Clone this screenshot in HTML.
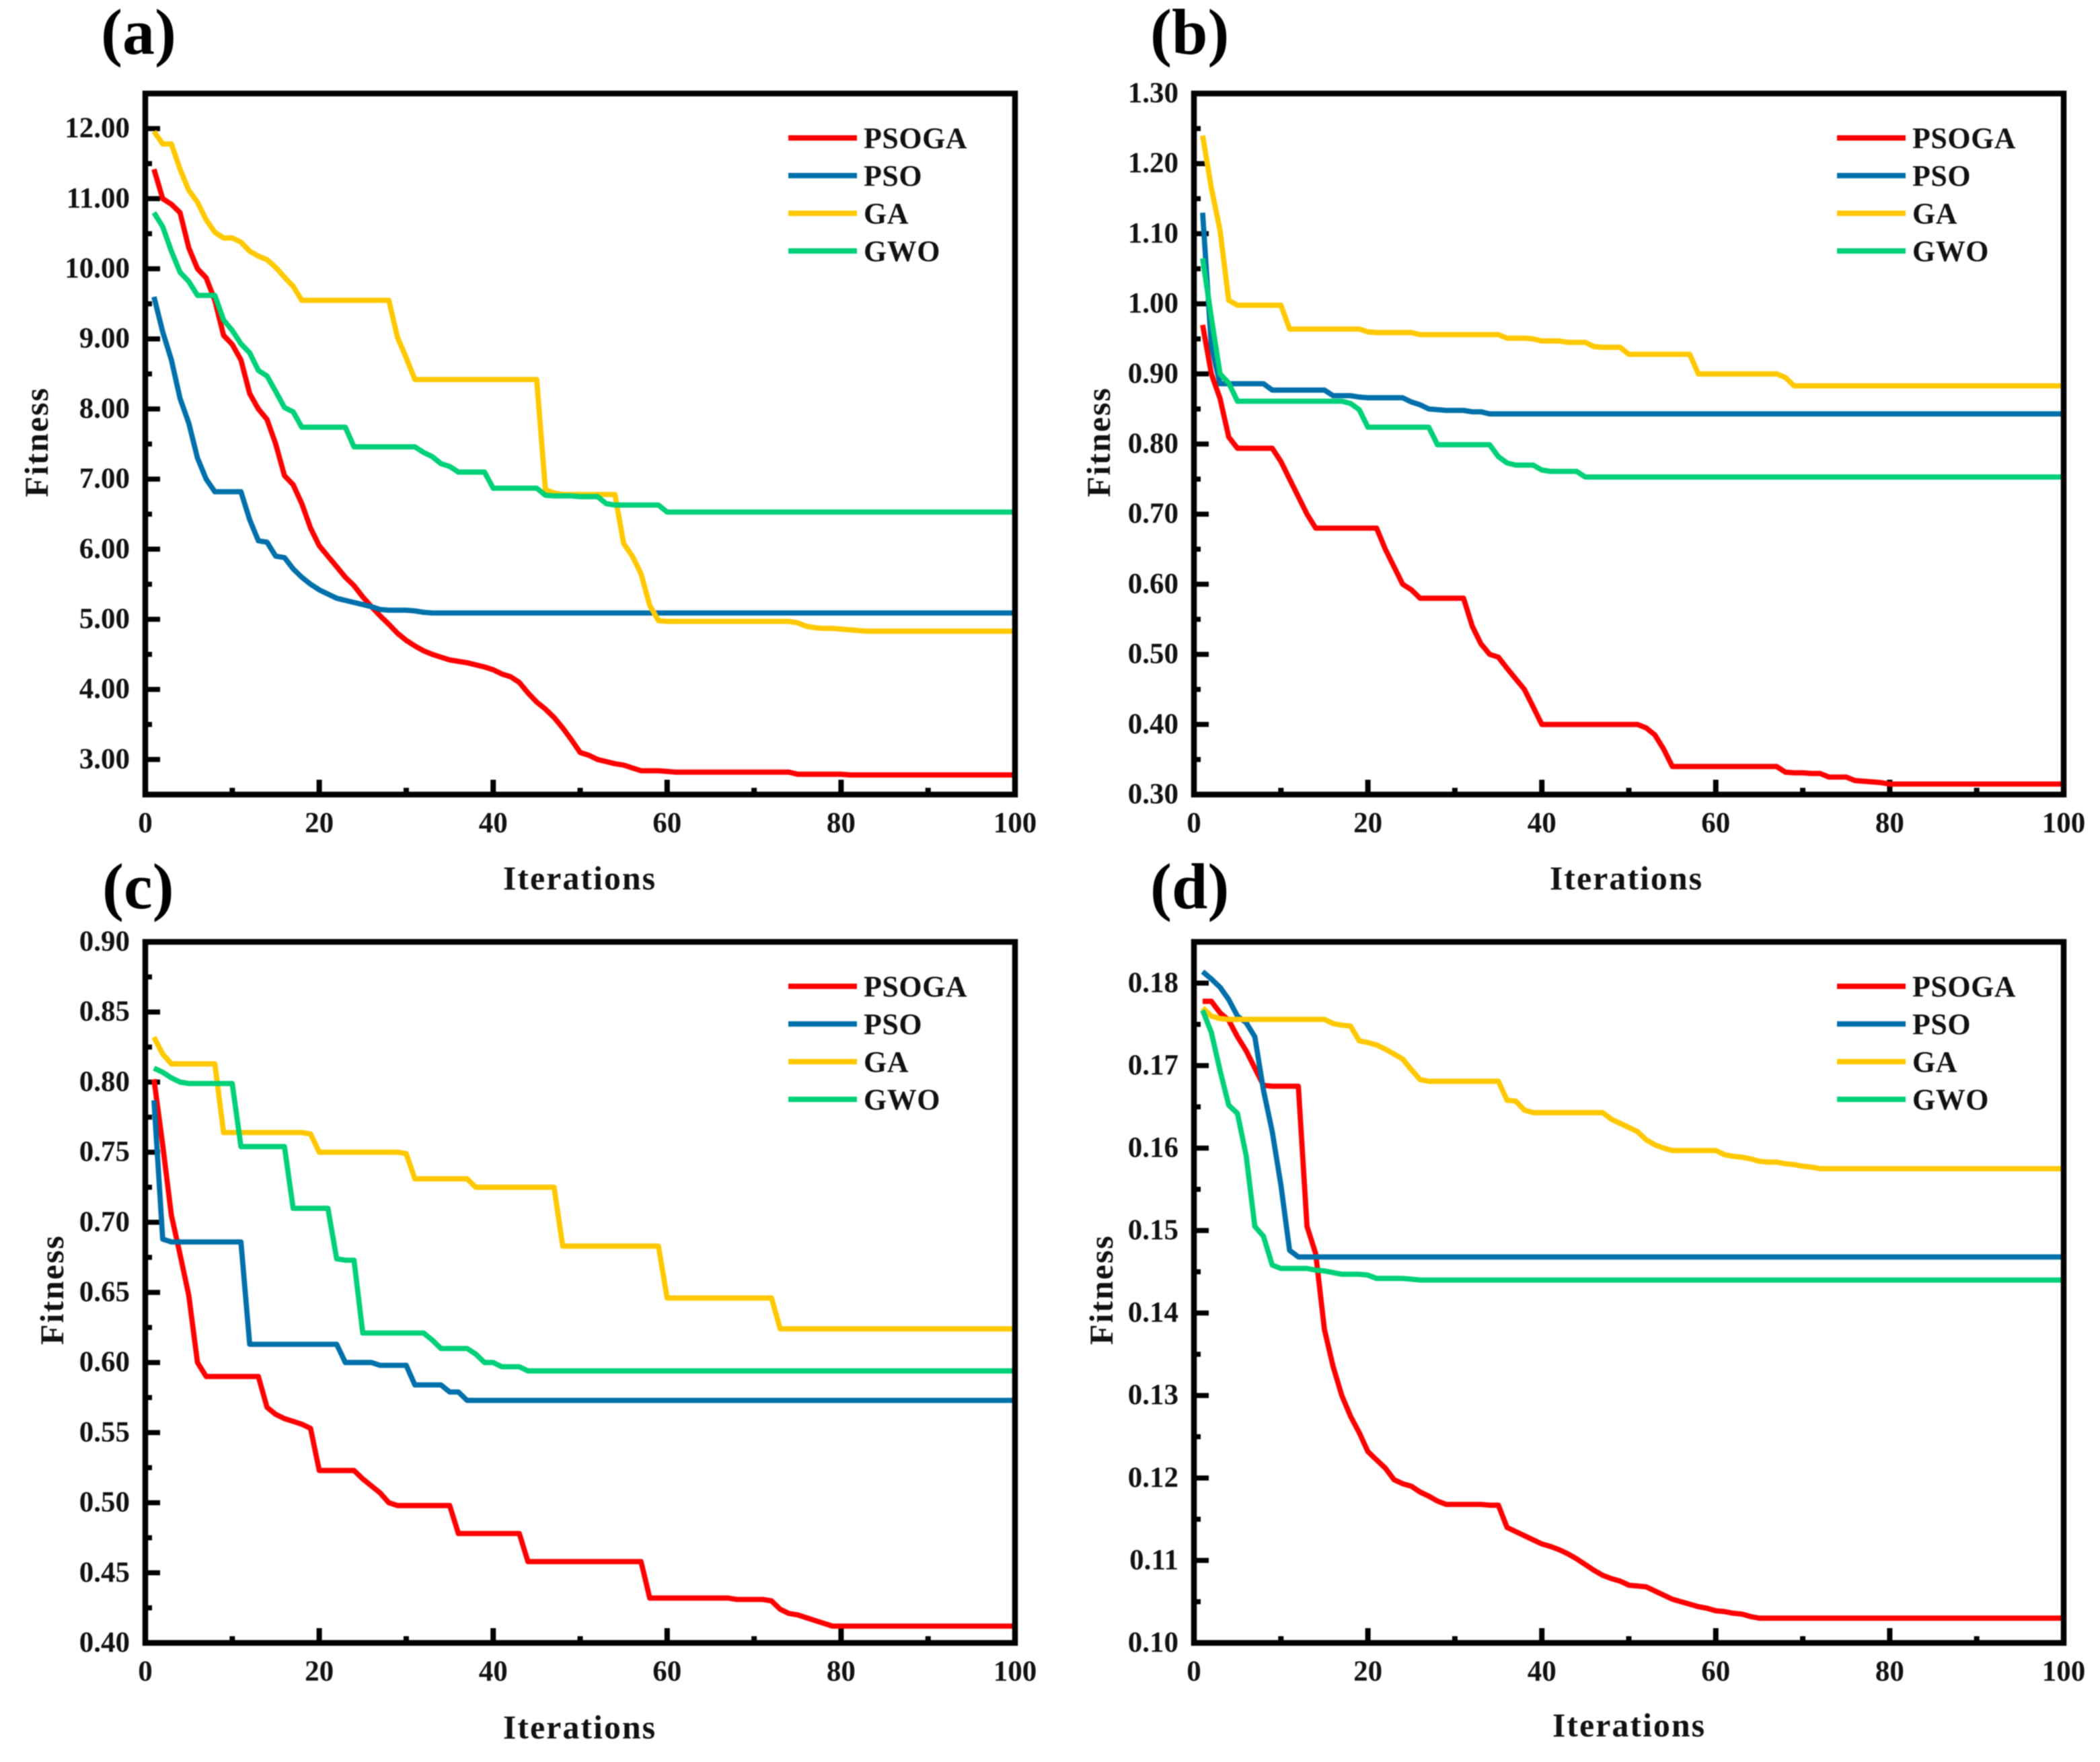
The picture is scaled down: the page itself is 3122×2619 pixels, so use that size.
<!DOCTYPE html>
<html lang="en">
<head>
<meta charset="utf-8">
<title>Fitness convergence curves</title>
<style>
html,body{margin:0;padding:0;background:#fff;width:3122px;height:2619px;overflow:hidden}
svg{display:block;filter:blur(0.7px)}
text{font-family:"Liberation Serif",serif;font-weight:bold;fill:#111}
.tick{font-size:43px}
.title{font-size:50px;letter-spacing:2px}
.panel{font-size:96px;fill:#000}
.legend{font-size:44px;letter-spacing:.5px}
.frame{fill:none;stroke:#000;stroke-width:8.5}
.key{stroke-width:8}
</style>
</head>
<body>
<svg id="figure" xmlns="http://www.w3.org/2000/svg" width="3122" height="2619" viewBox="0 0 3122 2619">
  <rect width="3122" height="2619" fill="#fff"/>

  <g id="panel-a">
    <g class="ticks"></g>
    <g class="series"></g>
    <rect class="frame" x="216" y="139" width="1293" height="1042"/>
    <text class="panel" x="150" y="80">(a)</text>
    <text class="title" x="862" y="1322" text-anchor="middle">Iterations</text>
    <text class="title" transform="translate(71 657) rotate(-90)" text-anchor="middle">Fitness</text>
    <g>
      <line class="key" x1="1172" x2="1274" y1="205" y2="205" stroke="#FF0000"/>
      <text class="legend" x="1284" y="220">PSOGA</text>
      <line class="key" x1="1172" x2="1274" y1="261" y2="261" stroke="#0070AA"/>
      <text class="legend" x="1284" y="276">PSO</text>
      <line class="key" x1="1172" x2="1274" y1="317" y2="317" stroke="#FFC800"/>
      <text class="legend" x="1284" y="332">GA</text>
      <line class="key" x1="1172" x2="1274" y1="373" y2="373" stroke="#00D078"/>
      <text class="legend" x="1284" y="388">GWO</text>
    </g>
  </g>

  <g id="panel-b">
    <g class="ticks"></g>
    <g class="series"></g>
    <rect class="frame" x="1775" y="139" width="1293" height="1042"/>
    <text class="panel" x="1710" y="80">(b)</text>
    <text class="title" x="2418" y="1322" text-anchor="middle">Iterations</text>
    <text class="title" transform="translate(1650 657) rotate(-90)" text-anchor="middle">Fitness</text>
    <g>
      <line class="key" x1="2731" x2="2833" y1="205" y2="205" stroke="#FF0000"/>
      <text class="legend" x="2843" y="220">PSOGA</text>
      <line class="key" x1="2731" x2="2833" y1="261" y2="261" stroke="#0070AA"/>
      <text class="legend" x="2843" y="276">PSO</text>
      <line class="key" x1="2731" x2="2833" y1="317" y2="317" stroke="#FFC800"/>
      <text class="legend" x="2843" y="332">GA</text>
      <line class="key" x1="2731" x2="2833" y1="373" y2="373" stroke="#00D078"/>
      <text class="legend" x="2843" y="388">GWO</text>
    </g>
  </g>

  <g id="panel-c">
    <g class="ticks"></g>
    <g class="series"></g>
    <rect class="frame" x="216" y="1400" width="1293" height="1042"/>
    <text class="panel" x="152" y="1350">(c)</text>
    <text class="title" x="862" y="2584" text-anchor="middle">Iterations</text>
    <text class="title" transform="translate(94 1917) rotate(-90)" text-anchor="middle">Fitness</text>
    <g>
      <line class="key" x1="1172" x2="1274" y1="1466" y2="1466" stroke="#FF0000"/>
      <text class="legend" x="1284" y="1481">PSOGA</text>
      <line class="key" x1="1172" x2="1274" y1="1522" y2="1522" stroke="#0070AA"/>
      <text class="legend" x="1284" y="1537">PSO</text>
      <line class="key" x1="1172" x2="1274" y1="1578" y2="1578" stroke="#FFC800"/>
      <text class="legend" x="1284" y="1593">GA</text>
      <line class="key" x1="1172" x2="1274" y1="1634" y2="1634" stroke="#00D078"/>
      <text class="legend" x="1284" y="1649">GWO</text>
    </g>
  </g>

  <g id="panel-d">
    <g class="ticks"></g>
    <g class="series"></g>
    <rect class="frame" x="1775" y="1400" width="1293" height="1042"/>
    <text class="panel" x="1710" y="1350">(d)</text>
    <text class="title" x="2422" y="2581" text-anchor="middle">Iterations</text>
    <text class="title" transform="translate(1654 1917) rotate(-90)" text-anchor="middle">Fitness</text>
    <g>
      <line class="key" x1="2731" x2="2833" y1="1466" y2="1466" stroke="#FF0000"/>
      <text class="legend" x="2843" y="1481">PSOGA</text>
      <line class="key" x1="2731" x2="2833" y1="1522" y2="1522" stroke="#0070AA"/>
      <text class="legend" x="2843" y="1537">PSO</text>
      <line class="key" x1="2731" x2="2833" y1="1578" y2="1578" stroke="#FFC800"/>
      <text class="legend" x="2843" y="1593">GA</text>
      <line class="key" x1="2731" x2="2833" y1="1634" y2="1634" stroke="#00D078"/>
      <text class="legend" x="2843" y="1649">GWO</text>
    </g>
  </g>
</svg>

<script>
// Axis data
const xDomain = [0, 100];
const xMajorTicks = [0, 20, 40, 60, 80, 100];
const xMinorTicks = [10, 30, 50, 70, 90];

const aDomain = [2.5, 12.5];
const aMajorTicks = [3, 4, 5, 6, 7, 8, 9, 10, 11, 12];
const aMinorTicks = [3.5, 4.5, 5.5, 6.5, 7.5, 8.5, 9.5, 10.5, 11.5];
const aTickLabels = ["3.00", "4.00", "5.00", "6.00", "7.00", "8.00", "9.00", "10.00", "11.00", "12.00"];

const bDomain = [0.3, 1.3];
const bMajorTicks = [0.3, 0.4, 0.5, 0.6, 0.7, 0.8, 0.9, 1.0, 1.1, 1.2, 1.3];
const bMinorTicks = [0.35, 0.45, 0.55, 0.65, 0.75, 0.85, 0.95, 1.05, 1.15, 1.25];
const bTickLabels = ["0.30", "0.40", "0.50", "0.60", "0.70", "0.80", "0.90", "1.00", "1.10", "1.20", "1.30"];

const cDomain = [0.4, 0.9];
const cMajorTicks = [0.4, 0.45, 0.5, 0.55, 0.6, 0.65, 0.7, 0.75, 0.8, 0.85, 0.9];
const cMinorTicks = [0.425, 0.475, 0.525, 0.575, 0.625, 0.675, 0.725, 0.775, 0.825, 0.875];
const cTickLabels = ["0.40", "0.45", "0.50", "0.55", "0.60", "0.65", "0.70", "0.75", "0.80", "0.85", "0.90"];

const dDomain = [0.1, 0.185];
const dMajorTicks = [0.10, 0.11, 0.12, 0.13, 0.14, 0.15, 0.16, 0.17, 0.18];
const dMinorTicks = [0.105, 0.115, 0.125, 0.135, 0.145, 0.155, 0.165, 0.175];
const dTickLabels = ["0.10", "0.11", "0.12", "0.13", "0.14", "0.15", "0.16", "0.17", "0.18"];

// Series values: one value per iteration, iteration 1 to 100
const aPSOGA = [
11.42,11.0,10.92,10.8,10.3,10.0,9.87,9.55,9.05,8.92,
8.7,8.22,8.0,7.85,7.5,7.05,6.92,6.65,6.3,6.05,
5.9,5.75,5.6,5.48,5.32,5.18,5.05,4.93,4.8,4.7,
4.62,4.55,4.5,4.46,4.42,4.4,4.38,4.35,4.32,4.28,
4.22,4.18,4.1,3.95,3.82,3.72,3.6,3.45,3.28,3.1,
3.06,3.0,2.97,2.94,2.92,2.88,2.84,2.84,2.84,2.83,
2.82,2.82,2.82,2.82,2.82,2.82,2.82,2.82,2.82,2.82,
2.82,2.82,2.82,2.82,2.79,2.79,2.79,2.79,2.79,2.79,
2.78,2.78,2.78,2.78,2.78,2.78,2.78,2.78,2.78,2.78,
2.78,2.78,2.78,2.78,2.78,2.78,2.78,2.78,2.78,2.78];
const aPSO = [
9.6,9.1,8.7,8.15,7.8,7.3,7.0,6.82,6.82,6.82,
6.82,6.42,6.12,6.1,5.9,5.88,5.72,5.6,5.5,5.42,
5.36,5.3,5.27,5.24,5.21,5.18,5.14,5.13,5.13,5.13,
5.12,5.1,5.09,5.09,5.09,5.09,5.09,5.09,5.09,5.09,
5.09,5.09,5.09,5.09,5.09,5.09,5.09,5.09,5.09,5.09,
5.09,5.09,5.09,5.09,5.09,5.09,5.09,5.09,5.09,5.09,
5.09,5.09,5.09,5.09,5.09,5.09,5.09,5.09,5.09,5.09,
5.09,5.09,5.09,5.09,5.09,5.09,5.09,5.09,5.09,5.09,
5.09,5.09,5.09,5.09,5.09,5.09,5.09,5.09,5.09,5.09,
5.09,5.09,5.09,5.09,5.09,5.09,5.09,5.09,5.09,5.09];
const aGA = [
11.96,11.78,11.78,11.42,11.12,10.95,10.7,10.52,10.44,10.44,
10.38,10.25,10.18,10.13,10.02,9.88,9.75,9.55,9.55,9.55,
9.55,9.55,9.55,9.55,9.55,9.55,9.55,9.55,9.02,8.73,
8.42,8.42,8.42,8.42,8.42,8.42,8.42,8.42,8.42,8.42,
8.42,8.42,8.42,8.42,8.42,6.85,6.8,6.78,6.78,6.78,
6.78,6.78,6.78,6.78,6.08,5.9,5.65,5.2,4.98,4.97,
4.97,4.97,4.97,4.97,4.97,4.97,4.97,4.97,4.97,4.97,
4.97,4.97,4.97,4.97,4.95,4.9,4.88,4.87,4.87,4.86,
4.85,4.84,4.83,4.83,4.83,4.83,4.83,4.83,4.83,4.83,
4.83,4.83,4.83,4.83,4.83,4.83,4.83,4.83,4.83,4.83];
const aGWO = [
10.8,10.6,10.25,9.95,9.82,9.62,9.62,9.62,9.27,9.12,
8.93,8.8,8.55,8.47,8.25,8.02,7.96,7.74,7.74,7.74,
7.74,7.74,7.74,7.46,7.46,7.46,7.46,7.46,7.46,7.46,
7.46,7.38,7.32,7.22,7.18,7.1,7.1,7.1,7.1,6.87,
6.87,6.87,6.87,6.87,6.87,6.77,6.76,6.76,6.76,6.75,
6.75,6.75,6.65,6.63,6.63,6.63,6.63,6.63,6.63,6.53,
6.53,6.53,6.53,6.53,6.53,6.53,6.53,6.53,6.53,6.53,
6.53,6.53,6.53,6.53,6.53,6.53,6.53,6.53,6.53,6.53,
6.53,6.53,6.53,6.53,6.53,6.53,6.53,6.53,6.53,6.53,
6.53,6.53,6.53,6.53,6.53,6.53,6.53,6.53,6.53,6.53];

const bPSOGA = [
0.97,0.9,0.865,0.81,0.794,0.794,0.794,0.794,0.794,0.775,
0.75,0.725,0.7,0.68,0.68,0.68,0.68,0.68,0.68,0.68,
0.68,0.65,0.625,0.6,0.592,0.58,0.58,0.58,0.58,0.58,
0.58,0.54,0.515,0.5,0.496,0.48,0.465,0.45,0.425,0.4,
0.4,0.4,0.4,0.4,0.4,0.4,0.4,0.4,0.4,0.4,
0.4,0.395,0.385,0.365,0.34,0.34,0.34,0.34,0.34,0.34,
0.34,0.34,0.34,0.34,0.34,0.34,0.34,0.332,0.331,0.331,
0.33,0.33,0.325,0.325,0.325,0.32,0.319,0.318,0.317,0.315,
0.315,0.315,0.315,0.315,0.315,0.315,0.315,0.315,0.315,0.315,
0.315,0.315,0.315,0.315,0.315,0.315,0.315,0.315,0.315,0.315];
const bPSO = [
1.13,0.94,0.886,0.886,0.886,0.886,0.886,0.886,0.877,0.877,
0.877,0.877,0.877,0.877,0.877,0.869,0.869,0.869,0.867,0.866,
0.866,0.866,0.866,0.866,0.86,0.856,0.85,0.849,0.848,0.848,
0.848,0.846,0.846,0.843,0.843,0.843,0.843,0.843,0.843,0.843,
0.843,0.843,0.843,0.843,0.843,0.843,0.843,0.843,0.843,0.843,
0.843,0.843,0.843,0.843,0.843,0.843,0.843,0.843,0.843,0.843,
0.843,0.843,0.843,0.843,0.843,0.843,0.843,0.843,0.843,0.843,
0.843,0.843,0.843,0.843,0.843,0.843,0.843,0.843,0.843,0.843,
0.843,0.843,0.843,0.843,0.843,0.843,0.843,0.843,0.843,0.843,
0.843,0.843,0.843,0.843,0.843,0.843,0.843,0.843,0.843,0.843];
const bGA = [
1.24,1.165,1.105,1.005,0.998,0.998,0.998,0.998,0.998,0.998,
0.964,0.964,0.964,0.964,0.964,0.964,0.964,0.964,0.964,0.96,
0.959,0.959,0.959,0.959,0.959,0.956,0.956,0.956,0.956,0.956,
0.956,0.956,0.956,0.956,0.956,0.951,0.951,0.951,0.95,0.947,
0.947,0.947,0.945,0.945,0.945,0.939,0.938,0.938,0.938,0.928,
0.928,0.928,0.928,0.928,0.928,0.928,0.928,0.9,0.9,0.9,
0.9,0.9,0.9,0.9,0.9,0.9,0.9,0.895,0.883,0.883,
0.883,0.883,0.883,0.883,0.883,0.883,0.883,0.883,0.883,0.883,
0.883,0.883,0.883,0.883,0.883,0.883,0.883,0.883,0.883,0.883,
0.883,0.883,0.883,0.883,0.883,0.883,0.883,0.883,0.883,0.883];
const bGWO = [
1.065,0.98,0.9,0.887,0.861,0.861,0.861,0.861,0.861,0.861,
0.861,0.861,0.861,0.861,0.861,0.861,0.861,0.858,0.849,0.824,
0.824,0.824,0.824,0.824,0.824,0.824,0.824,0.799,0.799,0.799,
0.799,0.799,0.799,0.799,0.782,0.773,0.77,0.77,0.77,0.763,
0.761,0.761,0.761,0.761,0.753,0.753,0.753,0.753,0.753,0.753,
0.753,0.753,0.753,0.753,0.753,0.753,0.753,0.753,0.753,0.753,
0.753,0.753,0.753,0.753,0.753,0.753,0.753,0.753,0.753,0.753,
0.753,0.753,0.753,0.753,0.753,0.753,0.753,0.753,0.753,0.753,
0.753,0.753,0.753,0.753,0.753,0.753,0.753,0.753,0.753,0.753,
0.753,0.753,0.753,0.753,0.753,0.753,0.753,0.753,0.753,0.753];

const cPSOGA = [
0.802,0.755,0.705,0.677,0.648,0.6,0.59,0.59,0.59,0.59,
0.59,0.59,0.59,0.568,0.563,0.56,0.558,0.556,0.553,0.523,
0.523,0.523,0.523,0.523,0.517,0.512,0.507,0.5,0.498,0.498,
0.498,0.498,0.498,0.498,0.498,0.478,0.478,0.478,0.478,0.478,
0.478,0.478,0.478,0.458,0.458,0.458,0.458,0.458,0.458,0.458,
0.458,0.458,0.458,0.458,0.458,0.458,0.458,0.432,0.432,0.432,
0.432,0.432,0.432,0.432,0.432,0.432,0.432,0.431,0.431,0.431,
0.431,0.43,0.424,0.421,0.42,0.418,0.416,0.414,0.412,0.412,
0.412,0.412,0.412,0.412,0.412,0.412,0.412,0.412,0.412,0.412,
0.412,0.412,0.412,0.412,0.412,0.412,0.412,0.412,0.412,0.412];
const cPSO = [
0.787,0.688,0.686,0.686,0.686,0.686,0.686,0.686,0.686,0.686,
0.686,0.613,0.613,0.613,0.613,0.613,0.613,0.613,0.613,0.613,
0.613,0.613,0.6,0.6,0.6,0.6,0.598,0.598,0.598,0.598,
0.584,0.584,0.584,0.584,0.579,0.579,0.573,0.573,0.573,0.573,
0.573,0.573,0.573,0.573,0.573,0.573,0.573,0.573,0.573,0.573,
0.573,0.573,0.573,0.573,0.573,0.573,0.573,0.573,0.573,0.573,
0.573,0.573,0.573,0.573,0.573,0.573,0.573,0.573,0.573,0.573,
0.573,0.573,0.573,0.573,0.573,0.573,0.573,0.573,0.573,0.573,
0.573,0.573,0.573,0.573,0.573,0.573,0.573,0.573,0.573,0.573,
0.573,0.573,0.573,0.573,0.573,0.573,0.573,0.573,0.573,0.573];
const cGA = [
0.832,0.82,0.813,0.813,0.813,0.813,0.813,0.813,0.764,0.764,
0.764,0.764,0.764,0.764,0.764,0.764,0.764,0.764,0.763,0.75,
0.75,0.75,0.75,0.75,0.75,0.75,0.75,0.75,0.75,0.749,
0.731,0.731,0.731,0.731,0.731,0.731,0.731,0.725,0.725,0.725,
0.725,0.725,0.725,0.725,0.725,0.725,0.725,0.683,0.683,0.683,
0.683,0.683,0.683,0.683,0.683,0.683,0.683,0.683,0.683,0.646,
0.646,0.646,0.646,0.646,0.646,0.646,0.646,0.646,0.646,0.646,
0.646,0.646,0.624,0.624,0.624,0.624,0.624,0.624,0.624,0.624,
0.624,0.624,0.624,0.624,0.624,0.624,0.624,0.624,0.624,0.624,
0.624,0.624,0.624,0.624,0.624,0.624,0.624,0.624,0.624,0.624];
const cGWO = [
0.81,0.807,0.803,0.8,0.799,0.799,0.799,0.799,0.799,0.799,
0.754,0.754,0.754,0.754,0.754,0.754,0.71,0.71,0.71,0.71,
0.71,0.674,0.673,0.673,0.621,0.621,0.621,0.621,0.621,0.621,
0.621,0.621,0.616,0.61,0.61,0.61,0.61,0.606,0.6,0.6,
0.597,0.597,0.597,0.594,0.594,0.594,0.594,0.594,0.594,0.594,
0.594,0.594,0.594,0.594,0.594,0.594,0.594,0.594,0.594,0.594,
0.594,0.594,0.594,0.594,0.594,0.594,0.594,0.594,0.594,0.594,
0.594,0.594,0.594,0.594,0.594,0.594,0.594,0.594,0.594,0.594,
0.594,0.594,0.594,0.594,0.594,0.594,0.594,0.594,0.594,0.594,
0.594,0.594,0.594,0.594,0.594,0.594,0.594,0.594,0.594,0.594];

const dPSOGA = [
0.1778,0.1778,0.1764,0.1755,0.1735,0.1718,0.1697,0.1676,0.1675,0.1675,
0.1675,0.1675,0.1505,0.1472,0.138,0.1335,0.13,0.1275,0.1255,0.1232,
0.1222,0.1212,0.1198,0.1193,0.119,0.1183,0.1178,0.1172,0.1168,0.1168,
0.1168,0.1168,0.1168,0.1167,0.1167,0.114,0.1135,0.113,0.1125,0.112,
0.1117,0.1113,0.1108,0.1102,0.1095,0.1088,0.1082,0.1078,0.1075,0.107,
0.1069,0.1068,0.1063,0.1058,0.1053,0.105,0.1047,0.1044,0.1042,0.1039,
0.1038,0.1036,0.1035,0.1032,0.103,0.103,0.103,0.103,0.103,0.103,
0.103,0.103,0.103,0.103,0.103,0.103,0.103,0.103,0.103,0.103,
0.103,0.103,0.103,0.103,0.103,0.103,0.103,0.103,0.103,0.103,
0.103,0.103,0.103,0.103,0.103,0.103,0.103,0.103,0.103,0.103];
const dPSO = [
0.1814,0.1805,0.1795,0.178,0.176,0.1752,0.1735,0.167,0.162,0.1555,
0.1476,0.1468,0.1468,0.1468,0.1468,0.1468,0.1468,0.1468,0.1468,0.1468,
0.1468,0.1468,0.1468,0.1468,0.1468,0.1468,0.1468,0.1468,0.1468,0.1468,
0.1468,0.1468,0.1468,0.1468,0.1468,0.1468,0.1468,0.1468,0.1468,0.1468,
0.1468,0.1468,0.1468,0.1468,0.1468,0.1468,0.1468,0.1468,0.1468,0.1468,
0.1468,0.1468,0.1468,0.1468,0.1468,0.1468,0.1468,0.1468,0.1468,0.1468,
0.1468,0.1468,0.1468,0.1468,0.1468,0.1468,0.1468,0.1468,0.1468,0.1468,
0.1468,0.1468,0.1468,0.1468,0.1468,0.1468,0.1468,0.1468,0.1468,0.1468,
0.1468,0.1468,0.1468,0.1468,0.1468,0.1468,0.1468,0.1468,0.1468,0.1468,
0.1468,0.1468,0.1468,0.1468,0.1468,0.1468,0.1468,0.1468,0.1468,0.1468];
const dGA = [
0.177,0.176,0.1757,0.1756,0.1756,0.1756,0.1756,0.1756,0.1756,0.1756,
0.1756,0.1756,0.1756,0.1756,0.1756,0.1751,0.1749,0.1748,0.173,0.1728,
0.1725,0.172,0.1714,0.1708,0.1695,0.1683,0.1681,0.1681,0.1681,0.1681,
0.1681,0.1681,0.1681,0.1681,0.1681,0.1658,0.1657,0.1646,0.1643,0.1643,
0.1643,0.1643,0.1643,0.1643,0.1643,0.1643,0.1643,0.1635,0.163,0.1625,
0.162,0.161,0.1604,0.16,0.1597,0.1597,0.1597,0.1597,0.1597,0.1597,
0.1592,0.159,0.1589,0.1587,0.1584,0.1583,0.1583,0.1581,0.158,0.1578,
0.1577,0.1575,0.1575,0.1575,0.1575,0.1575,0.1575,0.1575,0.1575,0.1575,
0.1575,0.1575,0.1575,0.1575,0.1575,0.1575,0.1575,0.1575,0.1575,0.1575,
0.1575,0.1575,0.1575,0.1575,0.1575,0.1575,0.1575,0.1575,0.1575,0.1575];
const dGWO = [
0.1767,0.174,0.1694,0.1652,0.1642,0.1591,0.1505,0.1493,0.1458,0.1454,
0.1454,0.1454,0.1454,0.1452,0.1451,0.1449,0.1447,0.1447,0.1447,0.1446,
0.1442,0.1442,0.1442,0.1442,0.1441,0.144,0.144,0.144,0.144,0.144,
0.144,0.144,0.144,0.144,0.144,0.144,0.144,0.144,0.144,0.144,
0.144,0.144,0.144,0.144,0.144,0.144,0.144,0.144,0.144,0.144,
0.144,0.144,0.144,0.144,0.144,0.144,0.144,0.144,0.144,0.144,
0.144,0.144,0.144,0.144,0.144,0.144,0.144,0.144,0.144,0.144,
0.144,0.144,0.144,0.144,0.144,0.144,0.144,0.144,0.144,0.144,
0.144,0.144,0.144,0.144,0.144,0.144,0.144,0.144,0.144,0.144,
0.144,0.144,0.144,0.144,0.144,0.144,0.144,0.144,0.144,0.144];

const seriesNames = ["psoga", "pso", "ga", "gwo"];
const seriesColors = ["#FF0000", "#0070AA", "#FFC800", "#00D078"];

const SVG_NS = "http://www.w3.org/2000/svg";

function makeEl(tag) {
  return document.createElementNS(SVG_NS, tag);
}

function drawPanel(id, box, domain, majors, minors, labels, seriesList) {
  const root = document.getElementById(id);
  const tickGroup = root.querySelector(".ticks");
  const seriesGroup = root.querySelector(".series");
  const xScale = function (v) {
    return box.left + (v - xDomain[0]) / (xDomain[1] - xDomain[0]) * box.width;
  };
  const yScale = function (v) {
    return box.top + box.height - (v - domain[0]) / (domain[1] - domain[0]) * box.height;
  };

  majors.forEach(function (v, i) {
    const y = yScale(v);
    if (y > box.top + 2 && y < box.top + box.height - 2) {
      const t = makeEl("line");
      
      
      t.setAttribute("x1", box.left);
      t.setAttribute("x2", box.left + 22);
      t.setAttribute("y1", y);
      t.setAttribute("y2", y);
      t.setAttribute("stroke", "#000");
      t.setAttribute("stroke-width", "7.5");
      tickGroup.appendChild(t);
    }
    const label = makeEl("text");
    
    
    label.setAttribute("class", "tick");
    label.setAttribute("x", box.left - 23);
    label.setAttribute("y", y + 13);
    label.setAttribute("text-anchor", "end");
    label.textContent = labels[i];
    tickGroup.appendChild(label);
  });

  minors.forEach(function (v) {
    const y = yScale(v);
    const t = makeEl("line");
    
    
    t.setAttribute("x1", box.left);
    t.setAttribute("x2", box.left + 10);
    t.setAttribute("y1", y);
    t.setAttribute("y2", y);
    t.setAttribute("stroke", "#000");
    t.setAttribute("stroke-width", "7.5");
    tickGroup.appendChild(t);
  });

  const bottom = box.top + box.height;
  xMajorTicks.forEach(function (v) {
    const x = xScale(v);
    if (v > xDomain[0] && v < xDomain[1]) {
      const t = makeEl("line");
      
      
      t.setAttribute("x1", x);
      t.setAttribute("x2", x);
      t.setAttribute("y1", bottom);
      t.setAttribute("y2", bottom - 22);
      t.setAttribute("stroke", "#000");
      t.setAttribute("stroke-width", "8");
      tickGroup.appendChild(t);
    }
    const label = makeEl("text");
    
    
    label.setAttribute("class", "tick");
    label.setAttribute("x", x);
    label.setAttribute("y", bottom + 56);
    label.setAttribute("text-anchor", "middle");
    label.textContent = String(v);
    tickGroup.appendChild(label);
  });

  xMinorTicks.forEach(function (v) {
    const x = xScale(v);
    const t = makeEl("line");
    
    
    t.setAttribute("x1", x);
    t.setAttribute("x2", x);
    t.setAttribute("y1", bottom);
    t.setAttribute("y2", bottom - 10);
    t.setAttribute("stroke", "#000");
    t.setAttribute("stroke-width", "8");
    tickGroup.appendChild(t);
  });

  seriesList.forEach(function (values, s) {
    const pts = values.map(function (v, i) {
      return xScale(i + 1).toFixed(1) + "," + yScale(v).toFixed(1);
    }).join(" ");
    const line = makeEl("polyline");
    
    
    line.setAttribute("points", pts);
    line.setAttribute("fill", "none");
    line.setAttribute("stroke", seriesColors[s]);
    line.setAttribute("stroke-width", "7.8");
    line.setAttribute("stroke-linejoin", "round");
    seriesGroup.appendChild(line);
  });
}

drawPanel("panel-a", {left: 216, top: 139, width: 1293, height: 1042}, aDomain, aMajorTicks, aMinorTicks, aTickLabels, [aPSOGA, aPSO, aGA, aGWO]);
drawPanel("panel-b", {left: 1775, top: 139, width: 1293, height: 1042}, bDomain, bMajorTicks, bMinorTicks, bTickLabels, [bPSOGA, bPSO, bGA, bGWO]);
drawPanel("panel-c", {left: 216, top: 1400, width: 1293, height: 1042}, cDomain, cMajorTicks, cMinorTicks, cTickLabels, [cPSOGA, cPSO, cGA, cGWO]);
drawPanel("panel-d", {left: 1775, top: 1400, width: 1293, height: 1042}, dDomain, dMajorTicks, dMinorTicks, dTickLabels, [dPSOGA, dPSO, dGA, dGWO]);
</script>
</body>
</html>
